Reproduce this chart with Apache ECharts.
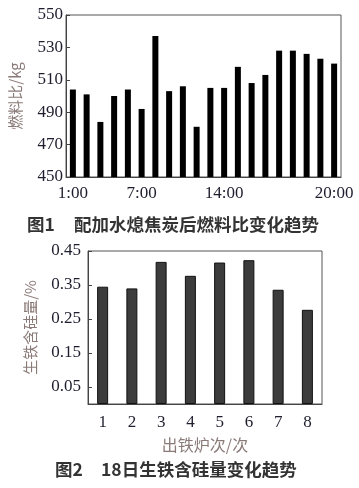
<!DOCTYPE html>
<html>
<head>
<meta charset="utf-8">
<script src="https://cdn.jsdelivr.net/npm/echarts@6/dist/echarts.min.js"></script>
<style>
html,body{margin:0;padding:0;background:#fff;}
#c{width:359px;height:488px;}
</style>
</head>
<body>
<div id="c"></div>
<script>
// Figure 1: fuel ratio per hour
var fuelCats = ['1','2','3','4','5','6','7','8','9','10','11','12','13','14','15','16','17','18','19','20'];
var fuelVals = [504, 501, 484, 500, 504, 492, 537, 503, 506, 481, 505, 505, 518, 508, 513, 528, 528, 526, 523, 520];
var fuelTickIdx = [0, 5, 11, 19];
var fuelTickLabels = ['1:00', '7:00', '14:00', '20:00'];
var fuelYTicks = [450, 470, 490, 510, 530, 550];

// Figure 2: silicon content per tap
var tapCats = ['1','2','3','4','5','6','7','8'];
var siVals = [0.345, 0.340, 0.418, 0.377, 0.416, 0.423, 0.336, 0.277];
var siYTicks = [0.05, 0.15, 0.25, 0.35, 0.45];

var serif = 'Liberation Serif';
var cjk = 'Noto Sans CJK SC';
var nameColor = '#8a7b78';
var labelColor = '#1e1e2e';
var capColor = '#333';

var chart = echarts.init(document.getElementById('c'));
chart.setOption({
  animation: false,
  backgroundColor: '#fff',
  grid: [
    {left: 54, top: 15, width: 287, height: 162, show: true, borderColor: '#555', borderWidth: 1},
    {left: 88, top: 251, width: 234, height: 153, show: true, borderColor: '#555', borderWidth: 1}
  ],
  xAxis: [
    {
      gridIndex: 0, type: 'category', data: fuelCats, boundaryGap: true,
      axisLine: {lineStyle: {color: '#444', width: 1}},
      axisTick: {show: false},
      axisLabel: {
        interval: function (i) { return fuelTickIdx.indexOf(i) >= 0; },
        formatter: function (v, i) { var k = fuelTickIdx.indexOf(i); return k >= 0 ? fuelTickLabels[k] : ''; },
        fontFamily: serif, fontSize: 17, color: labelColor, margin: 8
      }
    },
    {
      gridIndex: 1, type: 'category', data: tapCats, boundaryGap: true,
      axisLine: {lineStyle: {color: '#444', width: 1}},
      axisTick: {show: false},
      axisLabel: {fontFamily: serif, fontSize: 17, color: labelColor, margin: 10},
      name: '出铁炉次/次', nameLocation: 'middle', nameGap: 33,
      nameTextStyle: {fontFamily: cjk, fontSize: 16, color: nameColor}
    }
  ],
  yAxis: [
    {
      gridIndex: 0, type: 'value', min: 450, max: 550,
      axisLine: {show: true, lineStyle: {color: '#444', width: 1}},
      axisTick: {show: true, inside: true, length: 4, customValues: fuelYTicks, lineStyle: {color: '#444'}},
      axisLabel: {customValues: fuelYTicks, fontFamily: serif, fontSize: 17, color: labelColor, margin: 3},
      splitLine: {show: false},
      name: '燃料比/kg', nameLocation: 'middle', nameGap: 43,
      nameTextStyle: {fontFamily: cjk, fontSize: 15, color: nameColor}
    },
    {
      gridIndex: 1, type: 'value', min: 0, max: 0.45,
      axisLine: {show: true, lineStyle: {color: '#444', width: 1}},
      axisTick: {show: true, inside: true, length: 4, customValues: siYTicks, lineStyle: {color: '#444'}},
      axisLabel: {customValues: siYTicks, fontFamily: serif, fontSize: 17, color: labelColor, margin: 7,
        formatter: function (v) { return v.toFixed(2); }},
      splitLine: {show: false},
      name: '生铁含硅量/%', nameLocation: 'middle', nameGap: 50,
      nameTextStyle: {fontFamily: cjk, fontSize: 15, color: nameColor}
    }
  ],
  series: [
    {
      type: 'bar', xAxisIndex: 0, yAxisIndex: 0, data: fuelVals, barWidth: 6,
      itemStyle: {color: '#000'}
    },
    {
      type: 'bar', xAxisIndex: 1, yAxisIndex: 1, data: siVals, barWidth: 11,
      itemStyle: {color: '#3c3c3c', borderColor: '#111', borderWidth: 1}
    }
  ],
  graphic: [
    {type: 'text', x: 27, y: 224, style: {text: '图1', fontFamily: cjk, fontWeight: 'bold', fontSize: 17.5, fill: capColor, textAlign: 'left', textVerticalAlign: 'middle'}},
    {type: 'text', x: 74, y: 224, style: {text: '配加水熄焦炭后燃料比变化趋势', fontFamily: cjk, fontWeight: 'bold', fontSize: 17.5, fill: capColor, textAlign: 'left', textVerticalAlign: 'middle'}},
    {type: 'text', x: 55, y: 469, style: {text: '图2', fontFamily: cjk, fontWeight: 'bold', fontSize: 17.5, fill: capColor, textAlign: 'left', textVerticalAlign: 'middle'}},
    {type: 'text', x: 101, y: 469, style: {text: '18日生铁含硅量变化趋势', fontFamily: cjk, fontWeight: 'bold', fontSize: 17.5, fill: capColor, textAlign: 'left', textVerticalAlign: 'middle'}}
  ]
});
</script>
</body>
</html>
